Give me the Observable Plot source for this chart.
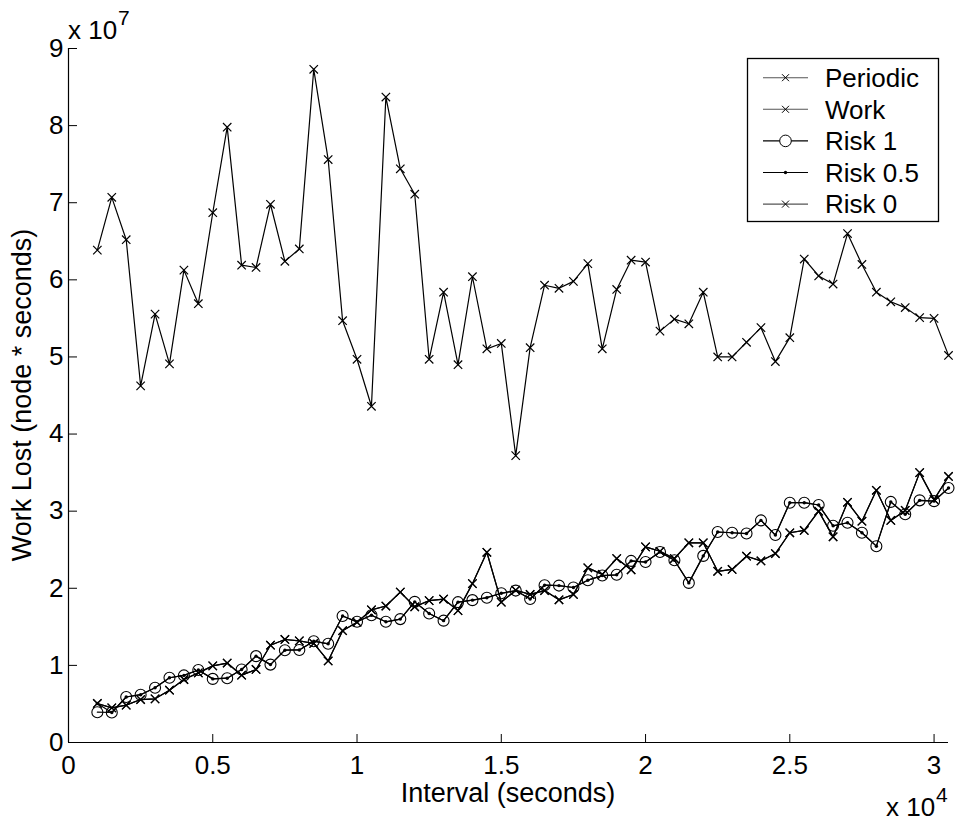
<!DOCTYPE html>
<html><head><meta charset="utf-8">
<script src="https://cdn.jsdelivr.net/npm/d3@7"></script>
<script src="https://cdn.jsdelivr.net/npm/@observablehq/plot@0.6"></script>
<style>body{margin:0;background:#fff} #chart{position:relative;width:956px;height:822px}</style>
</head><body><div id="chart"></div>
<script>
// interval (seconds)
const intervals = [1000,1500,2000,2500,3000,3500,4000,4500,5000,5500,6000,6500,7000,7500,8000,8500,9000,9500,10000,10500,
  11000,11500,12000,12500,13000,13500,14000,14500,15000,15500,16000,16500,17000,17500,18000,18500,19000,19500,20000,20500,
  21000,21500,22000,22500,23000,23500,24000,24500,25000,25500,26000,26500,27000,27500,28000,28500,29000,29500,30000,30500];
// work lost, in units of 10^7 node*seconds
const periodic = [6.385,7.07,6.52,4.625,5.555,4.91,6.126,5.69,6.87,7.98,6.19,6.16,6.98,6.24,6.40,8.73,7.56,5.47,4.97,4.36,
  8.37,7.44,7.11,4.97,5.84,4.90,6.04,5.105,5.175,3.72,5.12,5.93,5.89,5.98,6.21,5.105,5.875,6.255,6.23,5.335,
  5.49,5.43,5.84,5.0,5.0,5.19,5.38,4.94,5.25,6.27,6.05,5.945,6.60,6.20,5.84,5.715,5.64,5.51,5.50,5.02];
const risk0 = [0.506,0.449,0.484,0.557,0.566,0.678,0.817,0.903,0.994,1.03,0.873,0.947,1.262,1.336,1.318,1.284,1.058,1.45,1.56,1.72,
  1.77,1.95,1.76,1.84,1.86,1.71,2.06,2.467,1.82,1.975,1.92,1.97,1.85,1.92,2.265,2.18,2.385,2.24,2.537,2.48,
  2.386,2.59,2.59,2.22,2.244,2.416,2.355,2.45,2.72,2.75,3.0,2.667,3.115,2.87,3.27,2.88,3.01,3.50,3.15,3.45];
const work = [0.506,0.449,0.484,0.557,0.566,0.678,0.817,0.903,0.994,1.03,0.873,0.947,1.262,1.336,1.318,1.284,1.058,1.45,1.56,1.72,
  1.77,1.95,1.76,1.84,1.86,1.71,2.06,2.467,1.82,1.975,1.92,1.97,1.85,1.92,2.265,2.18,2.385,2.24,2.537,2.48,
  2.386,2.59,2.59,2.22,2.244,2.416,2.355,2.45,2.72,2.75,3.0,2.667,3.115,2.87,3.27,2.88,3.01,3.50,3.15,3.45];
const risk1 = [0.393,0.389,0.59,0.62,0.71,0.84,0.87,0.94,0.825,0.834,0.947,1.12,1.01,1.197,1.20,1.314,1.28,1.64,1.565,1.65,
  1.565,1.60,1.824,1.673,1.58,1.82,1.846,1.878,1.935,1.97,1.86,2.04,2.035,2.01,2.105,2.165,2.175,2.355,2.34,2.47,
  2.364,2.07,2.42,2.73,2.72,2.71,2.88,2.69,3.11,3.11,3.08,2.81,2.85,2.72,2.546,3.12,2.96,3.14,3.13,3.30];
const risk05 = [0.506,0.389,0.59,0.62,0.71,0.84,0.87,0.94,0.825,0.834,0.947,1.12,1.01,1.197,1.20,1.314,1.28,1.64,1.565,1.65,
  1.565,1.60,1.824,1.673,1.58,1.82,1.846,1.878,1.935,1.97,1.86,2.04,2.035,2.01,2.105,2.165,2.175,2.355,2.34,2.47,
  2.364,2.07,2.42,2.73,2.72,2.71,2.88,2.69,3.11,3.11,3.08,2.81,2.85,2.72,2.546,3.12,2.96,3.14,3.13,3.30];

const seriesNames = ["Periodic", "Work", "Risk 1", "Risk 0.5", "Risk 0"];
const seriesMarkers = ["times", "times", "circle", "point", "times"];
const xTicks = [0, 5000, 10000, 15000, 20000, 25000, 30000];
const xTickLabels = ["0", "0.5", "1", "1.5", "2", "2.5", "3"];
const yTicks = [0, 1, 2, 3, 4, 5, 6, 7, 8, 9];
const yTickLabels = ["0", "1", "2", "3", "4", "5", "6", "7", "8", "9"];
const xLabel = "Interval (seconds)";
const yLabel = "Work Lost (node * seconds)";

const seriesValues = [periodic, work, risk1, risk05, risk0];
const rows = [];
seriesValues.forEach((vals, si) => vals.forEach((v, i) => rows.push({x: intervals[i], y: v, s: seriesNames[si], m: seriesMarkers[si]})));

const font = "'Liberation Sans', Arial, Helvetica, sans-serif";
const plot = Plot.plot({
  width: 956, height: 822,
  marginLeft: 68, marginRight: 8, marginTop: 48, marginBottom: 80,
  style: {fontFamily: font, fontSize: "26px", color: "#000", background: "#fff", overflow: "visible"},
  x: {domain: [0, 30500]},
  y: {domain: [0, 9]},
  marks: [
    Plot.axisX({ticks: xTicks, tickSize: 0, tickPadding: 13, tickFormat: d => xTickLabels[xTicks.indexOf(d)], label: null, fontSize: 26}),
    Plot.axisX({ticks: xTicks, tickSize: -8, tickFormat: () => "", label: null}),
    Plot.axisY({ticks: yTicks, tickSize: 0, tickPadding: 5, tickFormat: d => yTickLabels[yTicks.indexOf(d)], label: null, fontSize: 26}),
    Plot.axisY({ticks: yTicks, tickSize: -9, tickFormat: () => "", label: null}),
    Plot.ruleX([0], {stroke: "#000", strokeWidth: 1.2}),
    Plot.ruleY([0], {stroke: "#000", strokeWidth: 1.2}),
    Plot.line(rows, {x: "x", y: "y", z: "s", stroke: "#000", strokeWidth: 1.2}),
    Plot.dot(rows.filter(d => d.m === "times"), {x: "x", y: "y", symbol: "times", r: 3.9, stroke: "#000", strokeWidth: 1.2}),
    Plot.dot(rows.filter(d => d.m === "circle"), {x: "x", y: "y", symbol: "circle", r: 5.5, fill: "none", stroke: "#000", strokeWidth: 1.1}),
    Plot.dot(rows.filter(d => d.m === "point"), {x: "x", y: "y", r: 1.7, fill: "#000", stroke: "none"})
  ]
});
document.getElementById("chart").appendChild(plot);

const svg = d3.select(plot);
// exponent annotations
const ann = svg.append("g").attr("font-family", font).attr("fill", "#000").attr("text-anchor", "start");
ann.append("text").attr("x", 68).attr("y", 39).attr("font-size", 26).text("x 10");
ann.append("text").attr("x", 118).attr("y", 25).attr("font-size", 21).text("7");
ann.append("text").attr("x", 886).attr("y", 816).attr("font-size", 26).text("x 10");
ann.append("text").attr("x", 936).attr("y", 802).attr("font-size", 21).text("4");
// axis labels
svg.append("text").attr("x", 508).attr("y", 802).attr("text-anchor", "middle").attr("font-family", font).attr("font-size", 27).attr("fill", "#000").text(xLabel);
svg.append("text").attr("transform", "translate(31,395) rotate(-90)").attr("text-anchor", "middle").attr("font-family", font).attr("font-size", 27).attr("fill", "#000").text(yLabel);

// legend
const lg = svg.append("g").attr("font-family", font).attr("text-anchor", "start");
lg.append("rect").attr("x", 747.5).attr("y", 58.5).attr("width", 191).attr("height", 163).attr("fill", "#fff").attr("stroke", "#000").attr("stroke-width", 1.3);
const lineColors = ["#555", "#555", "#000", "#000", "#555"];
seriesNames.forEach((name, i) => {
  const y = 77.7 + i * 31.6;
  lg.append("line").attr("x1", 763).attr("x2", 808).attr("y1", y).attr("y2", y).attr("stroke", lineColors[i]).attr("stroke-width", 1.1);
  const cx = 785.5;
  if (seriesMarkers[i] === "times") {
    lg.append("path").attr("d", `M${cx-3.5},${y-3.5}L${cx+3.5},${y+3.5}M${cx-3.5},${y+3.5}L${cx+3.5},${y-3.5}`).attr("stroke", "#000").attr("stroke-width", 1);
  } else if (seriesMarkers[i] === "circle") {
    lg.append("circle").attr("cx", cx).attr("cy", y).attr("r", 5.8).attr("fill", "#fff").attr("stroke", "#000").attr("stroke-width", 1);
  } else {
    lg.append("circle").attr("cx", cx).attr("cy", y).attr("r", 1.7).attr("fill", "#000");
  }
  lg.append("text").attr("x", 825).attr("y", y).attr("dy", "0.36em").attr("font-size", 26).attr("fill", "#000").text(name);
});
</script>
</body></html>
